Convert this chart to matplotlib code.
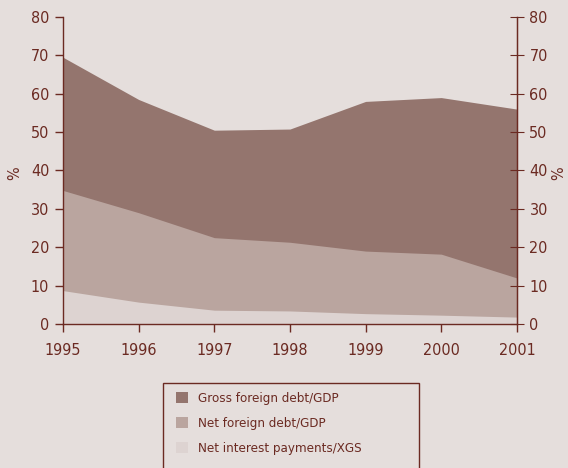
import matplotlib.pyplot as plt
from matplotlib.patches import Patch, Rectangle

years = [1995, 1996, 1997, 1998, 1999, 2000, 2001]
gross_debt = [69.5, 58.5, 50.5, 50.8, 58.0, 59.0, 56.0]
net_debt = [34.8, 29.0, 22.5, 21.3, 19.0, 18.2, 12.0]
net_interest = [8.7, 5.7, 3.6, 3.4, 2.7, 2.3, 1.8]

labels = ["Gross foreign debt/GDP", "Net foreign debt/GDP", "Net interest payments/XGS"]
colors = ["#94756e", "#baa59f", "#ddd3d1"]
bg = "#e5dedc"
ink = "#6b2a22"

plt.rcParams['font.family'] = ["DejaVu Sans"]
plt.rcParams['font.stretch'] = "condensed"

W, H = 568, 468
fig = plt.figure(figsize=(W / 100, H / 100), dpi=100, facecolor=bg)
ax = fig.add_axes([0.111, 0.3077, 0.799, 0.656])
ax.set_facecolor(bg)

# areas drawn from zero, overlapping
for vals, c in zip([gross_debt, net_debt, net_interest], colors):
    ax.fill_between(years, 0, vals, color=c, linewidth=0)

ax.set_xlim(1995, 2001)
ax.set_ylim(0, 80)
ax.set_xticks(years)
ax.set_yticks(range(0, 81, 10))

ax.spines["top"].set_visible(False)
for s in ["left", "right", "bottom"]:
    ax.spines[s].set_color(ink)
    ax.spines[s].set_linewidth(1.0)

ax.tick_params(axis="both", colors=ink, labelcolor=ink, labelsize=11.5, width=1.0)
ax.tick_params(axis="x", direction="out", length=6, pad=8)
ax.tick_params(axis="y", direction="out", length=6, pad=4)

ax2 = ax.twinx()
ax2.set_ylim(0, 80)
ax2.set_yticks(range(0, 81, 10))
for s in ["top", "left", "bottom"]:
    ax2.spines[s].set_visible(False)
ax2.spines["right"].set_color(ink)
ax2.tick_params(axis="y", direction="inout", length=10, colors=ink, labelcolor=ink, labelsize=11.5, pad=4)

# "%" unit labels on both sides
fig.text(15 / W, 1 - 173 / H, "%", color=ink, fontsize=11.5, rotation=90, ha="center", va="center")
fig.text(559 / W, 1 - 173 / H, "%", color=ink, fontsize=11.5, rotation=90, ha="center", va="center")

# legend frame drawn by hand, runs off the bottom edge
fig.add_artist(Rectangle((163 / W, -0.02), (419 - 163) / W, 0.02 + (468 - 383) / H,
                         transform=fig.transFigure, facecolor="none",
                         edgecolor=ink, linewidth=1.0))
handles = [Patch(facecolor=c, edgecolor="none") for c in colors]
fig.legend(handles, labels, loc="upper left", bbox_to_anchor=(176 / W, 1 - 392 / H),
           frameon=False, fontsize=9.5, labelcolor=ink,
           handlelength=0.9, handleheight=0.9, handletextpad=0.75,
           labelspacing=0.9, borderpad=0, borderaxespad=0)

fig.savefig("out.png", dpi=100, facecolor=bg)
